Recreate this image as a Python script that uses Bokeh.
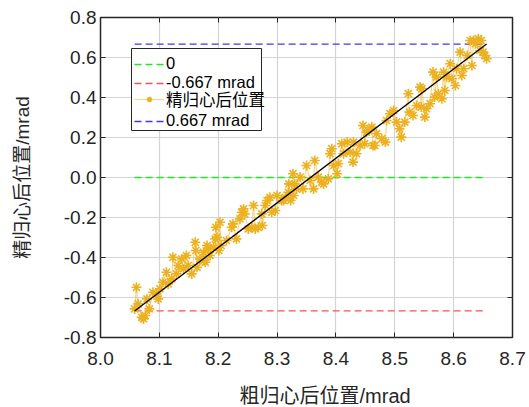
import numpy as np
from bokeh.plotting import figure
from bokeh.models import (Range1d, FixedTicker, NumeralTickFormatter, LinearAxis,
                          Legend, LegendItem, Title, CustomLabelingPolicy, BoxAnnotation)
from bokeh.embed import file_html
from bokeh.resources import INLINE

# ---- data ----
x_ticks = [8.0, 8.1, 8.2, 8.3, 8.4, 8.5, 8.6, 8.7]
y_ticks = [-0.8, -0.6, -0.4, -0.2, 0.0, 0.2, 0.4, 0.6, 0.8]

coarse_x = [
    8.061, 8.058, 8.064, 8.070, 8.076, 8.073, 8.079, 8.083, 8.089, 8.095,
    8.098, 8.101, 8.106, 8.112, 8.115, 8.121, 8.123, 8.129, 8.132, 8.138,
    8.141, 8.146, 8.149, 8.155, 8.161, 8.162, 8.164, 8.169, 8.175, 8.178,
    8.183, 8.186, 8.192, 8.195, 8.201, 8.205, 8.176, 8.181, 8.196, 8.198,
    8.203, 8.214, 8.223, 8.225, 8.231, 8.237, 8.240, 8.243, 8.245, 8.251,
    8.257, 8.260, 8.263, 8.268, 8.274, 8.275, 8.280, 8.283, 8.288, 8.291,
    8.297, 8.300, 8.308, 8.314, 8.320, 8.323, 8.328, 8.333, 8.311, 8.319,
    8.327, 8.330, 8.339, 8.344, 8.350, 8.356, 8.362, 8.364, 8.370, 8.376,
    8.379, 8.387, 8.390, 8.393, 8.396, 8.402, 8.404, 8.410, 8.413, 8.419,
    8.424, 8.429, 8.435, 8.441, 8.446, 8.449, 8.455, 8.461, 8.466, 8.469,
    8.430, 8.452, 8.463, 8.478, 8.484, 8.486, 8.492, 8.498, 8.503, 8.508,
    8.511, 8.517, 8.523, 8.525, 8.531, 8.537, 8.543, 8.545, 8.551, 8.554,
    8.560, 8.565, 8.568, 8.574, 8.580, 8.585, 8.588, 8.546, 8.571, 8.583,
    8.594, 8.597, 8.603, 8.605, 8.611, 8.614, 8.617, 8.623, 8.628, 8.631,
    8.634, 8.637, 8.642, 8.645, 8.647, 8.650, 8.653, 8.656,
]
fine_y = [
    -0.549, -0.657, -0.632, -0.699, -0.690, -0.707, -0.607, -0.657, -0.574, -0.582,
    -0.607, -0.557, -0.524, -0.474, -0.532, -0.507, -0.399, -0.482, -0.440, -0.407,
    -0.457, -0.390, -0.440, -0.482, -0.324, -0.365, -0.449, -0.407, -0.374, -0.424,
    -0.357, -0.390, -0.349, -0.307, -0.365, -0.340, -0.415, -0.340, -0.249, -0.299,
    -0.224, -0.315, -0.249, -0.232, -0.307, -0.207, -0.174, -0.157, -0.182, -0.257,
    -0.249, -0.140, -0.257, -0.249, -0.182, -0.240, -0.140, -0.115, -0.099, -0.174,
    -0.165, -0.090, -0.115, -0.099, -0.032, -0.115, -0.090, -0.057, -0.115, -0.074,
    0.019, -0.032, 0.002, -0.057, 0.060, -0.015, -0.057, 0.085, 0.002, -0.024,
    -0.032, -0.007, 0.119, 0.144, 0.060, 0.019, 0.069, 0.169, 0.119, 0.177,
    0.127, 0.077, 0.119, 0.160, 0.260, 0.169, 0.235, 0.252, 0.160, 0.219,
    0.177, 0.227, 0.160, 0.194, 0.177, 0.285, 0.319, 0.335, 0.277, 0.244,
    0.202, 0.277, 0.419, 0.327, 0.310, 0.360, 0.452, 0.352, 0.302, 0.344,
    0.369, 0.527, 0.402, 0.419, 0.394, 0.435, 0.502, 0.444, 0.502, 0.527,
    0.569, 0.494, 0.460, 0.544, 0.627, 0.510, 0.544, 0.610, 0.685, 0.560,
    0.685, 0.669, 0.694, 0.635, 0.685, 0.627, 0.610, 0.594,
]
fit_x = [8.058, 8.656]
fit_y = [-0.667, 0.667]
threshold_levels = [0.0, -0.667, 0.667]
threshold_labels = ["0", "-0.667 mrad", "0.667 mrad"]
series_label = "精归心后位置"

# ---- figure ----
LAT = "'Liberation Sans', 'Noto Sans CJK SC', sans-serif"
CJK = "'Liberation Sans', 'Noto Sans CJK SC', sans-serif"
TXT = "#262626"

p = figure(frame_width=412, frame_height=320,
           x_range=Range1d(8.0, 8.7), y_range=Range1d(-0.8, 0.8),
           output_backend="svg", toolbar_location=None,
           min_border_left=100, min_border_right=17, min_border_top=17, min_border_bottom=70,
           background_fill_color="white", border_fill_color="white")
p.outline_line_color = TXT
p.outline_line_width = 1.5

for ax, tk in ((p.xaxis[0], x_ticks), (p.yaxis[0], y_ticks)):
    ax.ticker = FixedTicker(ticks=tk)
    ax.formatter = NumeralTickFormatter(format="0.0")
    ax.major_tick_in = 5
    ax.major_tick_out = 0
    ax.minor_tick_line_color = None
    ax.axis_line_color = None
    ax.major_tick_line_color = TXT
    ax.major_label_text_font = LAT
    ax.major_label_text_font_size = "19px"
    ax.major_label_text_color = TXT

p.xaxis[0].major_label_standoff = 14
p.yaxis[0].major_label_standoff = 4
p.yaxis[0].axis_label = "精归心后位置/mrad"
p.yaxis[0].axis_label_text_font = CJK
p.yaxis[0].axis_label_text_font_size = "19px"
p.yaxis[0].axis_label_text_font_style = "normal"
p.yaxis[0].axis_label_text_color = TXT
p.yaxis[0].axis_label_standoff = 28

for loc, tk in (("above", x_ticks), ("right", y_ticks)):
    ax = LinearAxis(ticker=FixedTicker(ticks=tk), major_tick_in=5, major_tick_out=0,
                    minor_tick_line_color=None, axis_line_color=None,
                    major_tick_line_color=TXT, major_label_text_font_size="1px",
                    major_label_standoff=0,
                    major_label_policy=CustomLabelingPolicy(code="return []"))
    p.add_layout(ax, loc)

p.add_layout(Title(text="粗归心后位置/mrad", align="left", offset=139,
                   text_font=CJK, text_font_size="20px", text_font_style="normal",
                   text_color=TXT, standoff=30), "below")

p.xgrid.ticker = FixedTicker(ticks=x_ticks)
p.ygrid.ticker = FixedTicker(ticks=y_ticks)
p.grid.grid_line_color = "#d4d4d4"
p.grid.grid_line_width = 1.2

# ---- glyphs ----
x_lo, x_hi = min(coarse_x), max(coarse_x)
colors = ["#22e822", "#ff5050", "#3838ff"]
thr_r = []
for lvl, c in zip(threshold_levels, colors):
    thr_r.append(p.line([x_lo, x_hi], [lvl, lvl], line_color=c, line_dash="7 4", line_width=1.3))

order = np.argsort(coarse_x, kind="stable")
sx = np.array(coarse_x)[order]
sy = np.array(fine_y)[order]
conn = p.line(sx, sy, line_color="#EDB120", line_alpha=0.5, line_width=1.2)
pts = p.scatter(coarse_x, fine_y, marker="asterisk", size=10, line_color="#EDB120", line_width=1.6)

p.line(fit_x, fit_y, line_color="black", line_width=1.3)

# ---- legend: a framed box with four tightly stacked entries ----
box = BoxAnnotation(left=31, right=161, top=289, bottom=207,
                    left_units="screen", right_units="screen",
                    top_units="screen", bottom_units="screen",
                    fill_color="white", fill_alpha=1,
                    line_color=TXT, line_width=1, line_alpha=1)
p.add_layout(box)

entries = [
    (threshold_labels[0], [thr_r[0]], 264),
    (threshold_labels[1], [thr_r[1]], 245),
    (series_label, [conn, pts], 226),
    (threshold_labels[2], [thr_r[2]], 207),
]
for lab, rends, ybot in entries:
    lg = Legend(items=[LegendItem(label=lab, renderers=rends)], location=(34, ybot))
    lg.label_text_font = CJK
    lg.label_text_font_size = "16.5px"
    lg.label_text_color = "black"
    lg.glyph_width = 30
    lg.glyph_height = 14
    lg.label_height = 14
    lg.label_standoff = 2
    lg.padding = 0
    lg.margin = 0
    lg.border_line_color = None
    lg.background_fill_alpha = 0
    p.add_layout(lg, "center")

open("out.html", "w").write(file_html(p, INLINE))
